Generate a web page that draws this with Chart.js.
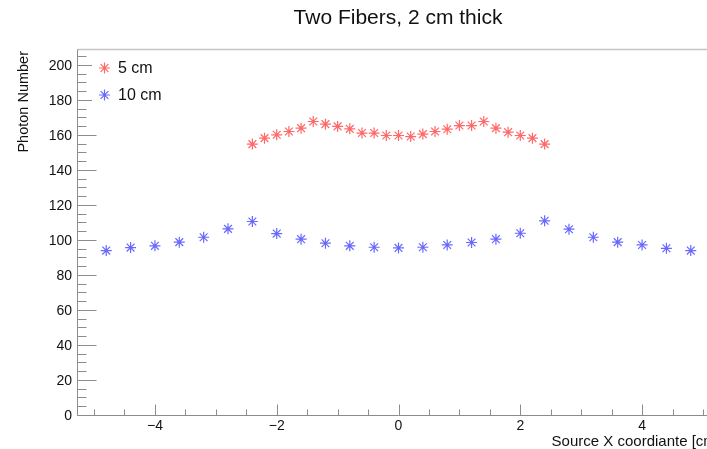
<!DOCTYPE html>
<html>
<head>
<meta charset="utf-8">
<title>Two Fibers, 2 cm thick</title>
<script src="https://cdn.jsdelivr.net/npm/chart.js@4"></script>
<style>
    html, body { margin: 0; padding: 0; background: #fff; overflow: hidden; }
    #wrap { width: 707px; height: 449px; overflow: hidden; }
    canvas { display: block; }
</style>
</head>
<body>
<div id="wrap"><canvas id="chart" width="796" height="449"></canvas></div>
<script>
// source positions (cm) and photon counts for each fiber distance
const xFive = [-2.4, -2.2, -2.0, -1.8, -1.6, -1.4, -1.2, -1.0, -0.8, -0.6, -0.4, -0.2, 0, 0.2, 0.4, 0.6, 0.8, 1.0, 1.2, 1.4, 1.6, 1.8, 2.0, 2.2, 2.4];
const yFive = [154.7, 158.1, 160.0, 161.9, 163.8, 167.6, 166.1, 164.8, 163.4, 161.0, 161.0, 159.6, 159.6, 159.0, 160.4, 161.9, 163.2, 165.3, 165.3, 167.6, 163.8, 161.5, 159.6, 158.1, 154.7];
const xTen = [-4.8, -4.4, -4.0, -3.6, -3.2, -2.8, -2.4, -2.0, -1.6, -1.2, -0.8, -0.4, 0, 0.4, 0.8, 1.2, 1.6, 2.0, 2.4, 2.8, 3.2, 3.6, 4.0, 4.4, 4.8];
const yTen = [93.9, 95.6, 96.6, 98.7, 101.5, 106.3, 110.5, 103.6, 100.4, 98.1, 96.6, 95.8, 95.4, 95.8, 97.1, 98.5, 100.4, 103.8, 110.9, 106.1, 101.5, 98.7, 97.1, 95.2, 93.9];

const seriesLabels = ['5 cm', '10 cm'];
const xTickValues = [-4, -2, 0, 2, 4];
const yTickValues = [0, 20, 40, 60, 80, 100, 120, 140, 160, 180, 200];

const chartTitle = 'Two Fibers, 2 cm thick';
const xTitle = 'Source X coordiante [cm]';
const yTitle = 'Photon Number';

const red = 'rgba(255, 40, 40, 0.7)';
const blue = 'rgba(40, 40, 255, 0.7)';
const font = '"Liberation Sans", Arial, Helvetica, sans-serif';

function toPoints(xs, ys) {
    return xs.map((x, i) => ({ x: x, y: ys[i] }));
}

function fmt(v) {
    return v < 0 ? '\u2212' + Math.abs(v) : String(v);
}

// frame, inward ticks, labels and the legend, ROOT style
const rootAxes = {
    id: 'rootAxes',
    beforeDatasetsDraw(chart) {
        const ctx = chart.ctx;
        const area = chart.chartArea;
        const xs = chart.scales.x;
        const ys = chart.scales.y;
        const left = Math.round(area.left) + 0.5;
        const bottom = Math.round(area.bottom) + 0.5;
        const top = Math.round(area.top) + 0.5;

        ctx.save();

        // top and right edges of the frame
        ctx.strokeStyle = '#c4c4c4';
        ctx.lineWidth = 1.5;
        ctx.beginPath();
        ctx.moveTo(left, top);
        ctx.lineTo(area.right, top);
        ctx.lineTo(area.right, bottom);
        ctx.stroke();

        ctx.strokeStyle = '#8c8c8c';
        ctx.lineWidth = 1;
        ctx.beginPath();
        ctx.moveTo(left, top);
        ctx.lineTo(left, bottom);
        ctx.lineTo(area.right, bottom);
        ctx.stroke();

        // y ticks: major every 20, minor every 5
        ctx.beginPath();
        for (let v = 0; v <= ys.max; v += 5) {
            const py = Math.round(ys.getPixelForValue(v)) + 0.5;
            const len = v % 20 === 0 ? 19 : 9;
            ctx.moveTo(left, py);
            ctx.lineTo(left + len, py);
        }
        // x ticks: major every 2, minor every 0.5
        for (let v = -5; v <= xs.max; v += 0.5) {
            const px = Math.round(xs.getPixelForValue(v)) + 0.5;
            const len = v % 2 === 0 ? 11 : 6;
            ctx.moveTo(px, bottom);
            ctx.lineTo(px, bottom - len);
        }
        ctx.stroke();

        ctx.fillStyle = '#111';
        ctx.font = '14px ' + font;
        ctx.textAlign = 'right';
        ctx.textBaseline = 'middle';
        yTickValues.forEach(v => {
            ctx.fillText(fmt(v), area.left - 5, ys.getPixelForValue(v) + 1);
        });
        ctx.textAlign = 'center';
        xTickValues.forEach(v => {
            ctx.fillText(fmt(v), xs.getPixelForValue(v), bottom + 11);
        });

        // axis titles
        ctx.font = '15px ' + font;
        ctx.textAlign = 'right';
        ctx.fillText(xTitle, area.right, bottom + 26);

        ctx.save();
        ctx.translate(24, area.top + 2);
        ctx.rotate(-Math.PI / 2);
        ctx.font = '14.5px ' + font;
        ctx.textAlign = 'right';
        ctx.fillText(yTitle, 0, 0);
        ctx.restore();

        // main title
        ctx.font = '21px ' + font;
        ctx.textAlign = 'center';
        ctx.fillText(chartTitle, 398, 18);
        ctx.restore();
    },
    afterDatasetsDraw(chart) {
        const ctx = chart.ctx;
        const colors = [red, blue];
        const rows = [68, 95];
        ctx.save();
        ctx.fillStyle = '#fff';
        ctx.fillRect(92, 51, 85, 62);
        ctx.font = '16px ' + font;
        ctx.textAlign = 'left';
        ctx.textBaseline = 'middle';
        seriesLabels.forEach((label, i) => {
            ctx.strokeStyle = colors[i];
            ctx.fillStyle = colors[i];
            ctx.lineWidth = 1.2;
            Chart.helpers.drawPoint(ctx, {
                pointStyle: 'star', radius: 5.5, borderWidth: 1.2
            }, 104.5, rows[i]);
            ctx.fillStyle = '#111';
            ctx.fillText(label, 118, rows[i] + 1);
        });
        ctx.restore();
    }
};

const ctx = document.getElementById('chart');
new Chart(ctx, {
    type: 'scatter',
    data: {
        datasets: [
            {
                label: seriesLabels[0],
                data: toPoints(xFive, yFive),
                pointStyle: 'star',
                pointRadius: 5.5,
                borderWidth: 1.2,
                borderColor: red,
                backgroundColor: red
            },
            {
                label: seriesLabels[1],
                data: toPoints(xTen, yTen),
                pointStyle: 'star',
                pointRadius: 5.5,
                borderWidth: 1.2,
                borderColor: blue,
                backgroundColor: blue
            }
        ]
    },
    options: {
        responsive: false,
        animation: false,
        layout: { padding: { left: 77, top: 49, right: 76, bottom: 34 } },
        scales: {
            x: { type: 'linear', min: -5.28, max: 5.28, display: false },
            y: { type: 'linear', min: 0, max: 209, display: false }
        },
        plugins: {
            legend: { display: false },
            tooltip: { enabled: false },
            title: { display: false }
        }
    },
    plugins: [rootAxes]
});
</script>
</body>
</html>
